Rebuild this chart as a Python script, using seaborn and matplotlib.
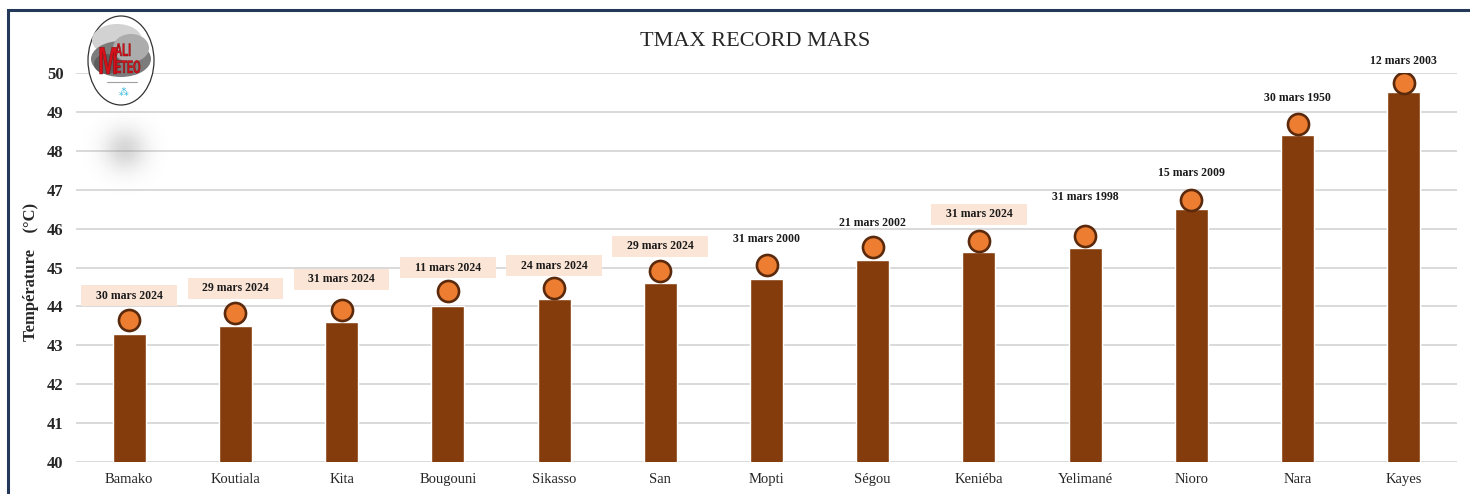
import numpy as np
import pandas as pd
import matplotlib
matplotlib.use('Agg')
import matplotlib.pyplot as plt
from matplotlib.patches import Rectangle, Ellipse, PathPatch
from matplotlib.textpath import TextPath
from matplotlib.font_manager import FontProperties
from matplotlib.transforms import Affine2D
import seaborn as sns

# === Data ===
stations = ['Bamako', 'Koutiala', 'Kita', 'Bougouni', 'Sikasso', 'San', 'Mopti',
            'Ségou', 'Keniéba', 'Yelimané', 'Nioro', 'Nara', 'Kayes']
tmax = [43.3, 43.5, 43.6, 44.0, 44.2, 44.6, 44.7, 45.2, 45.4, 45.5, 46.5, 48.4, 49.5]
marker_y = [43.65, 43.83, 43.9, 44.4, 44.47, 44.9, 45.06, 45.53, 45.68, 45.8, 46.74, 48.7, 49.74]
dates = ['30 mars 2024', '29 mars 2024', '31 mars 2024', '11 mars 2024', '24 mars 2024',
         '29 mars 2024', '31 mars 2000', '21 mars 2002', '31 mars 2024', '31 mars 1998',
         '15 mars 2009', '30 mars 1950', '12 mars 2003']
date_y = [44.27, 44.47, 44.7, 44.99, 45.04, 45.55, 45.73, 46.14, 46.37, 46.81, 47.43, 49.36, 50.3]

df = pd.DataFrame({'Station': stations, 'Tmax': tmax})

# === Style ===
sns.set_theme(style='white')
plt.rcParams['font.family'] = ['Liberation Serif', 'DejaVu Serif']

bar_color = '#843c0c'
dot_color = '#ed7d31'
dot_edge = '#5b2a0c'
box_color = '#fbe5d6'
grid_color = '#d9d9d9'

W, H = 1470, 494
fig = plt.figure(figsize=(W / 100, H / 100), dpi=100)
ax = fig.add_axes([76 / W, 1 - 462 / H, (1457 - 76) / W, (462 - 73) / H])

sns.barplot(data=df, x='Station', y='Tmax', color=bar_color, width=0.31,
            saturation=1, ax=ax, zorder=3)
ax.scatter(range(len(stations)), marker_y, s=230, color=dot_color,
           edgecolor=dot_edge, linewidth=1.9, zorder=4)

# date labels, highlighted boxes for 2024 records
for i, (txt, y) in enumerate(zip(dates, date_y)):
    if txt.endswith('2024'):
        ax.add_patch(Rectangle((i - 0.45, y - 0.27), 0.9, 0.54, facecolor=box_color,
                               edgecolor='none', zorder=2, clip_on=False))
    ax.text(i, y, txt, ha='center', va='center', fontsize=8.5, fontweight='bold',
            color='#1a1a1a', zorder=5, clip_on=False)

ax.set_ylim(40, 50)
ax.set_xlim(-0.5, len(stations) - 0.5)
ax.set_yticks(range(40, 51))
ax.yaxis.grid(True, color=grid_color, linewidth=1.4, zorder=0)
ax.set_axisbelow(True)
for s in ax.spines.values():
    s.set_visible(False)
ax.tick_params(axis='y', length=0, pad=9, labelsize=12)
ax.tick_params(axis='x', length=0, pad=8, labelsize=10.5)
for lab in ax.get_yticklabels():
    lab.set_fontweight('bold')
ax.set_xlabel('')
ax.set_ylabel('')

fig.text(31 / W, 1 - 272 / H, 'Température    (°C)', rotation=90, ha='center',
         va='center', fontsize=12, fontweight='bold')
fig.text(755 / W, 1 - 42 / H, 'TMAX RECORD MARS', ha='center', va='center', fontsize=16)

# === Frame around the chart ===
fig.add_artist(Rectangle((8 / W, -0.1), 1.2, (H - 10) / H + 0.1, transform=fig.transFigure,
                         fill=False, edgecolor='#24385a', linewidth=2.2))

# === Blurry grey spot near the logo ===
gx, gy = np.meshgrid(np.linspace(-1, 1, 80), np.linspace(-1, 1, 80))
blob = np.exp(-(gx ** 2 + gy ** 2) / 0.18)
sax = fig.add_axes([75 / W, 1 - 200 / H, 100 / W, 100 / H])
sax.imshow(np.dstack([np.full_like(blob, 0.55)] * 3 + [blob * 0.35]))
sax.axis('off')

# === Mali Meteo logo (pixel coords inside a 68x91 box) ===
lax = fig.add_axes([87 / W, 1 - 106 / H, 68 / W, 91 / H])
lax.set_xlim(0, 68)
lax.set_ylim(0, 91)
lax.axis('off')
lax.add_patch(Ellipse((34, 45.5), 66, 89, facecolor='white', edgecolor='#333333', lw=0.9))
lax.add_patch(Ellipse((30, 66), 50, 32, facecolor='#d2d2d2', edgecolor='none'))
lax.add_patch(Ellipse((34, 47), 60, 36, facecolor='#7c7c7c', edgecolor='none'))
lax.add_patch(Ellipse((44, 58), 36, 28, facecolor='#acacac', edgecolor='none'))
lax.add_patch(Ellipse((20, 42), 26, 20, facecolor='#5e5e5e', edgecolor='none'))

logo_fp = FontProperties(family='Liberation Sans', weight='bold')


def narrow_text(s, x, y, height, squeeze):
    tp = TextPath((0, 0), s, size=height / 0.72, prop=logo_fp)
    path = Affine2D().scale(squeeze, 1).translate(x, y).transform_path(tp)
    lax.add_patch(PathPatch(path, facecolor='#d9101a', edgecolor='#7a0a0a', lw=0.3))


narrow_text('M', 11, 32, 28, 0.62)
narrow_text('ALI', 28, 50, 13, 0.55)
narrow_text('ETEO', 28, 33, 13, 0.52)
lax.plot([20, 50], [24, 24], color='#a0a0a0', lw=0.8)
lax.text(37, 13, '⁂', ha='center', va='center', fontsize=7, color='#29b6d6',
         family=['DejaVu Sans'])

fig.savefig('out.png', dpi=100)
